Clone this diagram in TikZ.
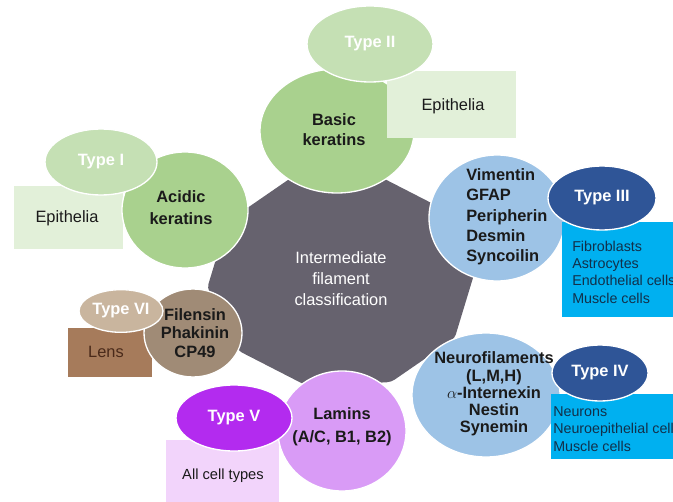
\documentclass[tikz,border=0pt]{standalone}
\usepackage{fontspec}
\setmainfont{Liberation Sans}
\usetikzlibrary{shapes.geometric,positioning}
\definecolor{IFGrey}{HTML}{66626E}
\definecolor{IFLeaf}{HTML}{C5E0B4}
\definecolor{IFKeratin}{HTML}{A9D18E}
\definecolor{IFEpi}{HTML}{E2F0D9}
\definecolor{IFSky}{HTML}{9DC3E6}
\definecolor{IFNavy}{HTML}{2F5597}
\definecolor{IFCyan}{HTML}{00B0F0}
\definecolor{IFSand}{HTML}{C9B59E}
\definecolor{IFTaupe}{HTML}{A08B76}
\definecolor{IFLens}{HTML}{A67B5B}
\definecolor{IFViolet}{HTML}{B32BEF}
\definecolor{IFOrchid}{HTML}{D99BF6}
\definecolor{IFLilac}{HTML}{F2D4FB}
\definecolor{IFInk}{HTML}{1A1A1A}
\definecolor{IFCellInk}{HTML}{12304A}
\definecolor{IFBark}{HTML}{4A2A1A}

\begin{document}
\begin{tikzpicture}[x=0.75pt,y=-0.75pt,
    blob/.style={ellipse,draw=white,line width=1pt,inner sep=0pt},
    typelbl/.style={blob,font=\fontsize{12.3}{15}\selectfont\bfseries,text=white},
    tagbox/.style={rectangle,anchor=north west,inner sep=0pt,font=\fontsize{12.3}{15}\selectfont,text=IFInk},
    lbl/.style={align=center,inner sep=0pt,font=\fontsize{12.3}{#1}\selectfont\bfseries,text=IFInk},
    lbl/.default=15pt,
    celltxt/.style={anchor=west,align=left,inner sep=0pt,font=\fontsize{10.7}{13}\selectfont,text=IFCellInk}
  ]
  \useasboundingbox (0,0) rectangle (673,502);
  \clip (0,0) rectangle (673,502);

  \fill[IFGrey,rounded corners=3pt,shift={(341,280)}] (-4:134 and 110)
    \foreach \a in {32,68,...,320}{-- (\a:134 and 110)} -- cycle;
  \node[align=center,inner sep=0pt,font=\fontsize{12.3}{15.75}\selectfont,text=white] (core) at (341,279) {Intermediate\\filament\\classification};

  \node[tagbox,fill=IFEpi,minimum width=81.75pt,minimum height=47.25pt] (epione) at (14,186) {};
  \node[font=\fontsize{12.3}{15}\selectfont,text=IFInk] (epionetxt) at (67,218) {Epithelia};
  \node[tagbox,fill=IFLens,minimum width=63pt,minimum height=36.75pt] (lens) at (68,328) {};
  \node[font=\fontsize{12.3}{15}\selectfont,text=IFBark] (lenstxt) at (106,352) {Lens};
  \node[tagbox,fill=IFLilac,minimum width=84.75pt,minimum height=48.75pt] (allcells) at (166,440) {};
  \node[font=\fontsize{11}{13}\selectfont,text=IFInk] (allcellstxt) at (223,476) {All cell types};

  \node[blob,fill=IFKeratin,minimum width=115.5pt,minimum height=93pt] (basic) at (337,131) {};
  \node[lbl] (basictxt) at (334,130) {Basic\\keratins};
  \node[blob,fill=IFKeratin,minimum width=94.5pt,minimum height=87pt] (acidic) at (185,210) {};
  \node[lbl=16.5pt] (acidictxt) at (181,208) {Acidic\\keratins};
  \node[blob,fill=IFSky,minimum width=102pt,minimum height=94.5pt] (vim) at (497,218) {};
  \node[lbl=15.2pt,anchor=west,align=left] (vimtxt) at (466,217) {Vimentin\\GFAP\\Peripherin\\Desmin\\Syncoilin};
  \node[blob,fill=IFSky,minimum width=111pt,minimum height=93pt] (neuro) at (486,395) {};
  \node[lbl=12.9pt] (neurotxt) at (494,394) {Neurofilaments\\(L,M,H)\\$\alpha$-Internexin\\Nestin\\Synemin};
  \node[blob,fill=IFTaupe,minimum width=73.5pt,minimum height=66pt] (filensin) at (193,333) {};
  \node[lbl=13.9pt] (filensintxt) at (195,333) {Filensin\\Phakinin\\CP49};
  \node[blob,fill=IFOrchid,minimum width=96pt,minimum height=90pt] (lamins) at (342,431) {};
  \node[lbl=17pt] (laminstxt) at (342,427) {Lamins\\(A/C, B1, B2)};

  \node[tagbox,fill=IFEpi,minimum width=96.75pt,minimum height=50.25pt] (epitwo) at (387,71) {};
  \node[font=\fontsize{12.3}{15}\selectfont,text=IFInk] (epitwotxt) at (453,106) {Epithelia};
  \node[tagbox,fill=IFCyan,minimum width=88.5pt,minimum height=71.25pt] (cellsthree) at (562,222) {};
  \node[celltxt] (cellsthreetxt) at (572,272) {Fibroblasts\\Astrocytes\\Endothelial cells\\Muscle cells};
  \node[tagbox,fill=IFCyan,minimum width=96.75pt,minimum height=48.75pt] (cellsfour) at (551,394) {};
  \node[celltxt] (cellsfourtxt) at (553,429) {Neurons\\Neuroepithelial cells\\Muscle cells};

  \node[typelbl,fill=IFLeaf,minimum width=94.5pt,minimum height=57pt] (typetwo) at (370,44) {Type II};
  \node[typelbl,fill=IFLeaf,minimum width=84pt,minimum height=49.5pt] (typeone) at (101,162) {Type I};
  \node[typelbl,fill=IFNavy,minimum width=81pt,minimum height=48pt] (typethree) at (602,198) {Type III};
  \node[typelbl,fill=IFNavy,minimum width=72pt,minimum height=42pt] (typefour) at (600,373) {Type IV};
  \node[typelbl,fill=IFSand,minimum width=63pt,minimum height=32pt] (typesix) at (121,311) {Type VI};
  \node[typelbl,fill=IFViolet,minimum width=87pt,minimum height=49.5pt] (typefive) at (234,418) {Type V};
\end{tikzpicture}
\end{document}
